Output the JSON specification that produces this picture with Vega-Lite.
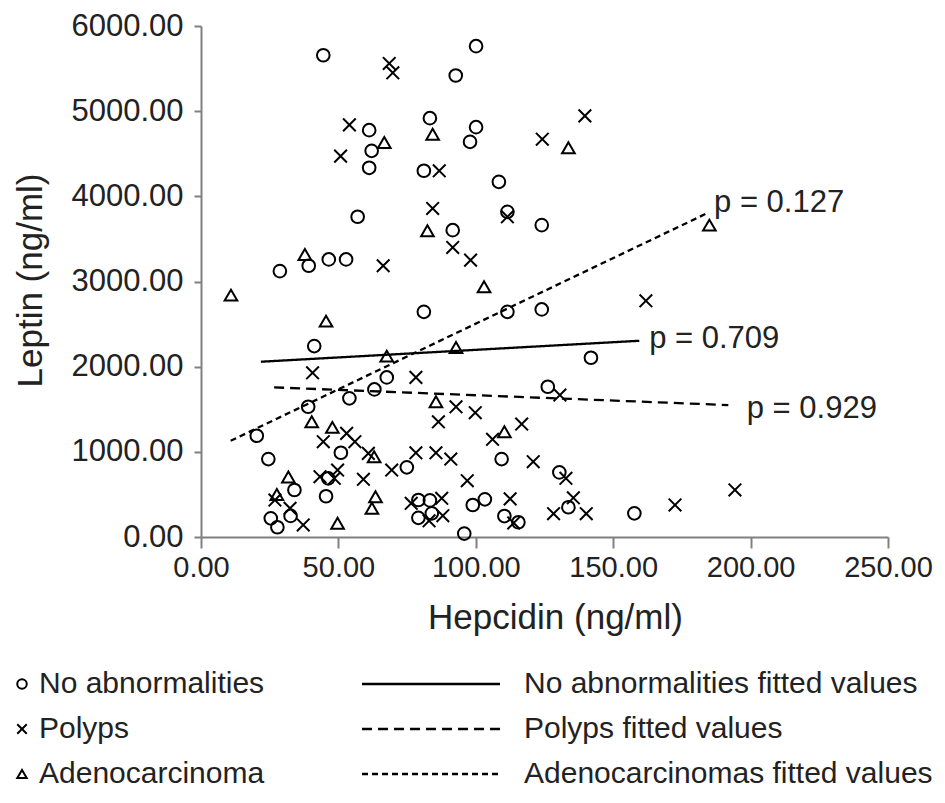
{
  "$schema": "https://vega.github.io/schema/vega-lite/v6.json",
  "width": 687,
  "height": 511,
  "autosize": {"type": "none"},
  "padding": {"left": 201, "top": 26, "right": 57, "bottom": 266},
  "background": "white",
  "config": {
    "view": {"stroke": null},
    "font": "Liberation Sans",
    "axis": {
      "grid": false,
      "domainColor": "#808080",
      "domainWidth": 2,
      "tickColor": "#808080",
      "tickWidth": 2,
      "labelColor": "#222222",
      "titleColor": "#222222",
      "labelFont": "Liberation Sans",
      "titleFont": "Liberation Sans",
      "titleFontWeight": "normal",
      "labelFlush": false,
      "labelOverlap": false
    },
    "legend": {"labelFont": "Liberation Sans"}
  },
  "datasets": {
    "points": [
      {"hepcidin": 44.5, "leptin": 5657, "group": "No abnormalities"},
      {"hepcidin": 92.7, "leptin": 5419, "group": "No abnormalities"},
      {"hepcidin": 100.1, "leptin": 5763, "group": "No abnormalities"},
      {"hepcidin": 61.2, "leptin": 4777, "group": "No abnormalities"},
      {"hepcidin": 62.1, "leptin": 4534, "group": "No abnormalities"},
      {"hepcidin": 61.2, "leptin": 4335, "group": "No abnormalities"},
      {"hepcidin": 83.3, "leptin": 4918, "group": "No abnormalities"},
      {"hepcidin": 100.1, "leptin": 4812, "group": "No abnormalities"},
      {"hepcidin": 97.9, "leptin": 4640, "group": "No abnormalities"},
      {"hepcidin": 81.1, "leptin": 4300, "group": "No abnormalities"},
      {"hepcidin": 108.4, "leptin": 4170, "group": "No abnormalities"},
      {"hepcidin": 111.5, "leptin": 3818, "group": "No abnormalities"},
      {"hepcidin": 124.0, "leptin": 3662, "group": "No abnormalities"},
      {"hepcidin": 57.0, "leptin": 3760, "group": "No abnormalities"},
      {"hepcidin": 91.6, "leptin": 3603, "group": "No abnormalities"},
      {"hepcidin": 39.2, "leptin": 3185, "group": "No abnormalities"},
      {"hepcidin": 46.5, "leptin": 3259, "group": "No abnormalities"},
      {"hepcidin": 52.8, "leptin": 3259, "group": "No abnormalities"},
      {"hepcidin": 28.7, "leptin": 3122, "group": "No abnormalities"},
      {"hepcidin": 81.1, "leptin": 2644, "group": "No abnormalities"},
      {"hepcidin": 111.5, "leptin": 2644, "group": "No abnormalities"},
      {"hepcidin": 124.0, "leptin": 2672, "group": "No abnormalities"},
      {"hepcidin": 41.2, "leptin": 2242, "group": "No abnormalities"},
      {"hepcidin": 141.9, "leptin": 2105, "group": "No abnormalities"},
      {"hepcidin": 67.6, "leptin": 1874, "group": "No abnormalities"},
      {"hepcidin": 63.1, "leptin": 1733, "group": "No abnormalities"},
      {"hepcidin": 54.0, "leptin": 1628, "group": "No abnormalities"},
      {"hepcidin": 39.0, "leptin": 1529, "group": "No abnormalities"},
      {"hepcidin": 126.2, "leptin": 1764, "group": "No abnormalities"},
      {"hepcidin": 20.3, "leptin": 1189, "group": "No abnormalities"},
      {"hepcidin": 50.9, "leptin": 989, "group": "No abnormalities"},
      {"hepcidin": 24.5, "leptin": 915, "group": "No abnormalities"},
      {"hepcidin": 109.4, "leptin": 915, "group": "No abnormalities"},
      {"hepcidin": 74.9, "leptin": 818, "group": "No abnormalities"},
      {"hepcidin": 130.4, "leptin": 759, "group": "No abnormalities"},
      {"hepcidin": 46.3, "leptin": 689, "group": "No abnormalities"},
      {"hepcidin": 34.0, "leptin": 552, "group": "No abnormalities"},
      {"hepcidin": 45.5, "leptin": 478, "group": "No abnormalities"},
      {"hepcidin": 25.4, "leptin": 219, "group": "No abnormalities"},
      {"hepcidin": 27.8, "leptin": 114, "group": "No abnormalities"},
      {"hepcidin": 32.6, "leptin": 248, "group": "No abnormalities"},
      {"hepcidin": 79.1, "leptin": 434, "group": "No abnormalities"},
      {"hepcidin": 83.3, "leptin": 430, "group": "No abnormalities"},
      {"hepcidin": 79.1, "leptin": 225, "group": "No abnormalities"},
      {"hepcidin": 84.0, "leptin": 278, "group": "No abnormalities"},
      {"hepcidin": 98.9, "leptin": 376, "group": "No abnormalities"},
      {"hepcidin": 103.3, "leptin": 442, "group": "No abnormalities"},
      {"hepcidin": 95.8, "leptin": 40, "group": "No abnormalities"},
      {"hepcidin": 110.4, "leptin": 246, "group": "No abnormalities"},
      {"hepcidin": 115.5, "leptin": 173, "group": "No abnormalities"},
      {"hepcidin": 133.7, "leptin": 349, "group": "No abnormalities"},
      {"hepcidin": 157.7, "leptin": 278, "group": "No abnormalities"},
      {"hepcidin": 68.5, "leptin": 5560, "group": "Polyps"},
      {"hepcidin": 69.8, "leptin": 5450, "group": "Polyps"},
      {"hepcidin": 54.0, "leptin": 4839, "group": "Polyps"},
      {"hepcidin": 50.8, "leptin": 4472, "group": "Polyps"},
      {"hepcidin": 139.7, "leptin": 4945, "group": "Polyps"},
      {"hepcidin": 124.2, "leptin": 4671, "group": "Polyps"},
      {"hepcidin": 86.7, "leptin": 4300, "group": "Polyps"},
      {"hepcidin": 84.3, "leptin": 3858, "group": "Polyps"},
      {"hepcidin": 111.5, "leptin": 3760, "group": "Polyps"},
      {"hepcidin": 91.6, "leptin": 3400, "group": "Polyps"},
      {"hepcidin": 98.1, "leptin": 3251, "group": "Polyps"},
      {"hepcidin": 66.3, "leptin": 3185, "group": "Polyps"},
      {"hepcidin": 161.9, "leptin": 2773, "group": "Polyps"},
      {"hepcidin": 40.6, "leptin": 1928, "group": "Polyps"},
      {"hepcidin": 78.2, "leptin": 1874, "group": "Polyps"},
      {"hepcidin": 130.6, "leptin": 1667, "group": "Polyps"},
      {"hepcidin": 92.8, "leptin": 1529, "group": "Polyps"},
      {"hepcidin": 99.8, "leptin": 1459, "group": "Polyps"},
      {"hepcidin": 86.4, "leptin": 1353, "group": "Polyps"},
      {"hepcidin": 53.0, "leptin": 1217, "group": "Polyps"},
      {"hepcidin": 44.5, "leptin": 1119, "group": "Polyps"},
      {"hepcidin": 56.0, "leptin": 1119, "group": "Polyps"},
      {"hepcidin": 116.7, "leptin": 1326, "group": "Polyps"},
      {"hepcidin": 106.1, "leptin": 1147, "group": "Polyps"},
      {"hepcidin": 60.9, "leptin": 982, "group": "Polyps"},
      {"hepcidin": 78.2, "leptin": 989, "group": "Polyps"},
      {"hepcidin": 85.5, "leptin": 989, "group": "Polyps"},
      {"hepcidin": 90.9, "leptin": 915, "group": "Polyps"},
      {"hepcidin": 120.9, "leptin": 884, "group": "Polyps"},
      {"hepcidin": 69.4, "leptin": 786, "group": "Polyps"},
      {"hepcidin": 132.8, "leptin": 689, "group": "Polyps"},
      {"hepcidin": 43.3, "leptin": 708, "group": "Polyps"},
      {"hepcidin": 49.7, "leptin": 786, "group": "Polyps"},
      {"hepcidin": 48.5, "leptin": 689, "group": "Polyps"},
      {"hepcidin": 59.1, "leptin": 677, "group": "Polyps"},
      {"hepcidin": 96.9, "leptin": 661, "group": "Polyps"},
      {"hepcidin": 26.9, "leptin": 434, "group": "Polyps"},
      {"hepcidin": 32.4, "leptin": 337, "group": "Polyps"},
      {"hepcidin": 37.2, "leptin": 141, "group": "Polyps"},
      {"hepcidin": 76.5, "leptin": 396, "group": "Polyps"},
      {"hepcidin": 87.6, "leptin": 454, "group": "Polyps"},
      {"hepcidin": 83.0, "leptin": 190, "group": "Polyps"},
      {"hepcidin": 88.0, "leptin": 250, "group": "Polyps"},
      {"hepcidin": 112.5, "leptin": 448, "group": "Polyps"},
      {"hepcidin": 113.8, "leptin": 165, "group": "Polyps"},
      {"hepcidin": 128.3, "leptin": 274, "group": "Polyps"},
      {"hepcidin": 135.5, "leptin": 460, "group": "Polyps"},
      {"hepcidin": 140.2, "leptin": 274, "group": "Polyps"},
      {"hepcidin": 172.5, "leptin": 376, "group": "Polyps"},
      {"hepcidin": 194.3, "leptin": 552, "group": "Polyps"},
      {"hepcidin": 66.7, "leptin": 4633, "group": "Adenocarcinoma"},
      {"hepcidin": 84.3, "leptin": 4730, "group": "Adenocarcinoma"},
      {"hepcidin": 133.7, "leptin": 4570, "group": "Adenocarcinoma"},
      {"hepcidin": 82.4, "leptin": 3595, "group": "Adenocarcinoma"},
      {"hepcidin": 37.8, "leptin": 3318, "group": "Adenocarcinoma"},
      {"hepcidin": 10.9, "leptin": 2840, "group": "Adenocarcinoma"},
      {"hepcidin": 103.0, "leptin": 2938, "group": "Adenocarcinoma"},
      {"hepcidin": 45.5, "leptin": 2535, "group": "Adenocarcinoma"},
      {"hepcidin": 92.8, "leptin": 2226, "group": "Adenocarcinoma"},
      {"hepcidin": 67.6, "leptin": 2124, "group": "Adenocarcinoma"},
      {"hepcidin": 185.0, "leptin": 3662, "group": "Adenocarcinoma"},
      {"hepcidin": 85.5, "leptin": 1588, "group": "Adenocarcinoma"},
      {"hepcidin": 40.3, "leptin": 1353, "group": "Adenocarcinoma"},
      {"hepcidin": 47.8, "leptin": 1287, "group": "Adenocarcinoma"},
      {"hepcidin": 110.4, "leptin": 1236, "group": "Adenocarcinoma"},
      {"hepcidin": 63.0, "leptin": 943, "group": "Adenocarcinoma"},
      {"hepcidin": 31.8, "leptin": 705, "group": "Adenocarcinoma"},
      {"hepcidin": 27.6, "leptin": 500, "group": "Adenocarcinoma"},
      {"hepcidin": 63.5, "leptin": 473, "group": "Adenocarcinoma"},
      {"hepcidin": 62.2, "leptin": 337, "group": "Adenocarcinoma"},
      {"hepcidin": 49.7, "leptin": 161, "group": "Adenocarcinoma"}
    ],
    "fits": [
      {"hepcidin": 21.8, "leptin": 2058, "fit": "No abnormalities fitted values"},
      {"hepcidin": 159.5, "leptin": 2304, "fit": "No abnormalities fitted values"},
      {"hepcidin": 26.6, "leptin": 1757, "fit": "Polyps fitted values"},
      {"hepcidin": 191.9, "leptin": 1549, "fit": "Polyps fitted values"},
      {"hepcidin": 10.8, "leptin": 1130, "fit": "Adenocarcinomas fitted values"},
      {"hepcidin": 184.0, "leptin": 3799, "fit": "Adenocarcinomas fitted values"}
    ],
    "labels": [
      {"hepcidin": 186.7, "leptin": 3811, "text": "p = 0.127"},
      {"hepcidin": 163.1, "leptin": 2215, "text": "p = 0.709"},
      {"hepcidin": 198.6, "leptin": 1393, "text": "p = 0.929"}
    ]
  },
  "layer": [
    {
      "data": {"name": "fits"},
      "mark": {"type": "line", "color": "black", "strokeWidth": 2.3},
      "encoding": {
        "x": {
          "field": "hepcidin", "type": "quantitative",
          "scale": {"domain": [0, 250], "nice": false, "zero": true},
          "axis": {
            "title": "Hepcidin (ng/ml)",
            "values": [0, 50, 100, 150, 200, 250],
            "format": ".2f",
            "tickSize": 11,
            "labelPadding": 5,
            "labelFontSize": 29,
            "titleFontSize": 35,
            "titleX": 354,
            "titleY": 63,
            "titleBaseline": "top",
            "titleAlign": "center"
          }
        },
        "y": {
          "field": "leptin", "type": "quantitative",
          "scale": {"domain": [0, 6000], "nice": false},
          "axis": {
            "title": "Leptin (ng/ml)",
            "values": [0, 1000, 2000, 3000, 4000, 5000, 6000],
            "format": ".2f",
            "tickSize": 7,
            "labelPadding": 11,
            "labelFontSize": 31,
            "titleFontSize": 35,
            "titleAngle": 270,
            "titleX": -160,
            "titleY": 254,
            "titleBaseline": "alphabetic",
            "titleAlign": "center"
          }
        },
        "strokeDash": {
          "field": "fit", "type": "nominal",
          "scale": {
            "domain": ["No abnormalities fitted values", "Polyps fitted values", "Adenocarcinomas fitted values"],
            "range": [[1, 0], [10, 6], [6, 4]]
          },
          "legend": {
            "orient": "none", "legendX": 215, "legendY": 643,
            "title": null, "direction": "vertical",
            "labelFontSize": 30, "labelColor": "#222222", "labelLimit": 0,
            "symbolType": "M-6.9,0L6.9,0", "symbolSize": 400, "symbolStrokeWidth": 2.5,
            "symbolStrokeColor": "black", "symbolFillColor": "transparent",
            "rowPadding": 15, "labelOffset": 78, "padding": 0
          }
        }
      }
    },
    {
      "data": {"name": "points"},
      "mark": {"type": "point", "filled": false, "color": "black", "opacity": 1, "strokeWidth": 2, "size": 160},
      "encoding": {
        "x": {"field": "hepcidin", "type": "quantitative"},
        "y": {"field": "leptin", "type": "quantitative"},
        "shape": {
          "field": "group", "type": "nominal",
          "scale": {
            "domain": ["No abnormalities", "Polyps", "Adenocarcinoma"],
            "range": ["circle", "M-1,-1L1,1M-1,1L1,-1", "triangle-up"]
          },
          "legend": {
            "orient": "none", "legendX": -194, "legendY": 643,
            "title": null, "direction": "vertical",
            "labelFontSize": 30, "labelColor": "#222222", "labelLimit": 0,
            "symbolSize": 90, "symbolStrokeWidth": 2, "symbolStrokeColor": "black",
            "symbolFillColor": "transparent",
            "rowPadding": 15, "labelOffset": 2, "padding": 0
          }
        }
      }
    },
    {
      "data": {"name": "labels"},
      "mark": {"type": "text", "align": "left", "baseline": "alphabetic", "fontSize": 31, "color": "#222222", "font": "Liberation Sans"},
      "encoding": {
        "x": {"field": "hepcidin", "type": "quantitative"},
        "y": {"field": "leptin", "type": "quantitative"},
        "text": {"field": "text", "type": "nominal"}
      }
    }
  ]
}
